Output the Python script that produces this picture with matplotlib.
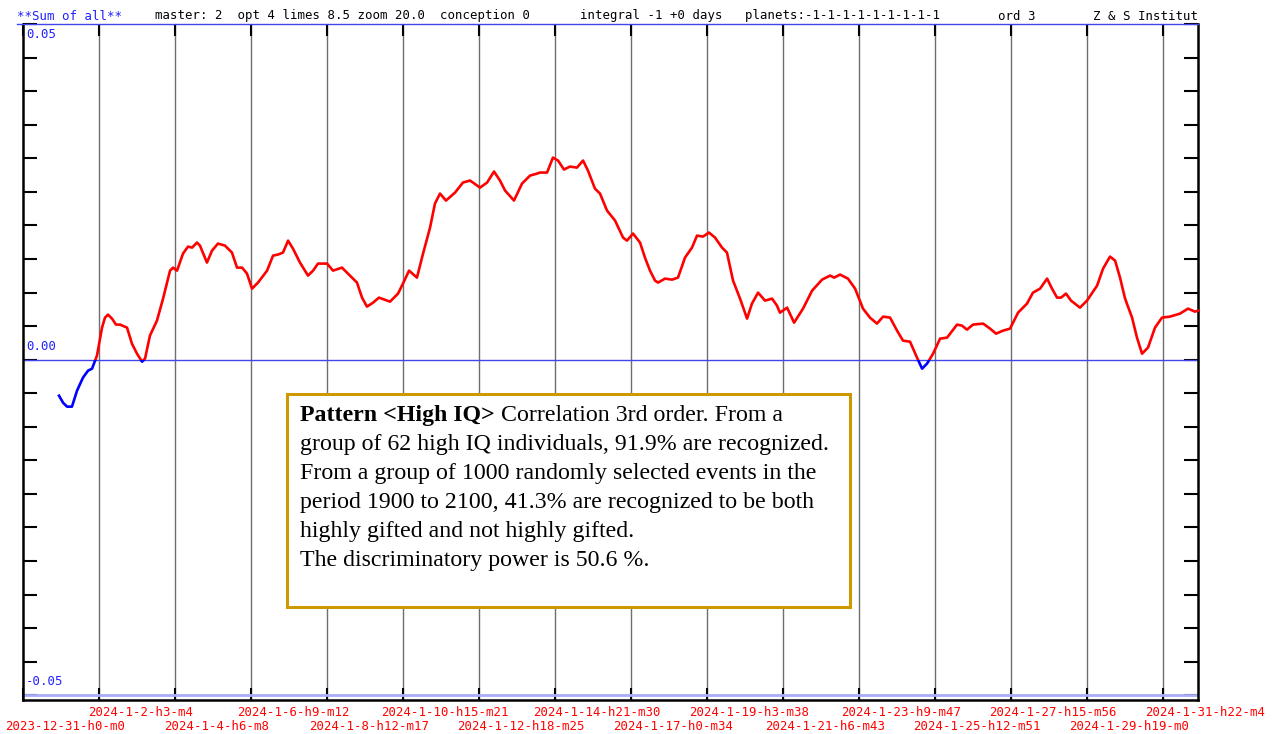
import datetime as dt

import numpy as np
import matplotlib
matplotlib.use("Agg")
import matplotlib.pyplot as plt
import matplotlib.transforms as mtransforms
from matplotlib.patches import Rectangle

# --- data -------------------------------------------------------------------
START = dt.datetime(2023, 12, 31, 0, 0)

tick_labels = [
    "2023-12-31-h0-m0", "2024-1-2-h3-m4", "2024-1-4-h6-m8", "2024-1-6-h9-m12",
    "2024-1-8-h12-m17", "2024-1-10-h15-m21", "2024-1-12-h18-m25",
    "2024-1-14-h21-m30", "2024-1-17-h0-m34", "2024-1-19-h3-m38",
    "2024-1-21-h6-m43", "2024-1-23-h9-m47", "2024-1-25-h12-m51",
    "2024-1-27-h15-m56", "2024-1-29-h19-m0", "2024-1-31-h22-m4",
]

# hours since 2023-12-31 0:00
hours = [
    24.2, 26.9, 29.6, 32.9, 36.3, 40.3, 43.7, 46.4, 49.7, 53.1, 55.1, 57.1,
    59.8, 62.5, 65.2, 69.9, 73.2, 76.6, 80.0, 82.0, 85.3, 90.0, 94.1, 98.8,
    100.8, 103.5, 107.5, 110.9, 113.6, 116.9, 118.9, 123.6, 127.0, 131.0,
    135.7, 140.4, 143.8, 147.2, 150.5, 153.9, 157.9, 164.0, 168.0, 171.3,
    174.7, 178.1, 181.4, 186.1, 191.5, 194.9, 198.2, 204.3, 208.3, 214.3,
    221.1, 224.4, 227.8, 231.1, 235.2, 239.2, 246.6, 252.0, 255.3, 259.4,
    264.7, 268.8, 273.5, 276.8, 280.2, 284.2, 290.3, 295.6, 300.4, 307.1,
    311.8, 316.5, 320.5, 323.9, 329.9, 335.3, 340.7, 345.4, 347.4, 352.1,
    356.1, 359.5, 363.5, 367.5, 372.2, 376.3, 379.6, 384.3, 387.7, 392.4,
    397.8, 403.2, 405.8, 409.9, 414.6, 417.9, 421.3, 424.7, 426.7, 431.4,
    436.1, 440.1, 444.8, 449.5, 452.9, 456.9, 460.9, 465.0, 469.7, 473.0,
    477.1, 481.8, 486.5, 489.8, 493.9, 498.6, 503.3, 506.6, 508.6, 513.4,
    518.1, 524.1, 530.2, 536.9, 542.3, 545.0, 549.0, 554.3, 559.1, 564.4,
    569.1, 573.8, 577.9, 582.6, 587.3, 591.3, 596.0, 600.7, 604.1, 607.4,
    611.5, 616.2, 620.9, 627.6, 630.9, 634.3, 638.3, 645.1, 649.8, 653.8,
    658.5, 663.2, 668.6, 674.6, 678.6, 683.4, 688.1, 691.4, 694.8, 697.5,
    700.8, 704.2, 710.2, 714.9, 721.7, 725.7, 730.4, 733.8, 737.1, 740.5,
    745.2, 748.5, 751.9, 755.9, 760.6, 765.3, 770.7, 777.4, 782.8, 787.5,
    789.5,
]

# correlation sum, in thousandths
sum_milli = [
    -5.37, -6.41, -7.00, -7.00, -4.62, -2.68, -1.64, -1.34, 0.60, 4.77, 6.26, 6.71,
    6.11, 5.22, 5.22, 4.77, 2.38, 0.89, -0.30, 0.15, 3.58, 5.81, 9.09, 13.26,
    13.71, 13.26, 15.80, 16.84, 16.69, 17.44, 16.99, 14.46, 16.24, 17.29,
    16.99, 15.95, 13.71, 13.71, 12.82, 10.58, 11.48, 13.26, 15.50, 15.65,
    15.95, 17.73, 16.54, 14.46, 12.52, 13.26, 14.31, 14.31, 13.26, 13.71,
    12.22, 11.48, 9.24, 7.90, 8.49, 9.24, 8.64, 9.84, 11.33, 13.26,
    12.22, 15.80, 19.67, 23.25, 24.74, 23.70, 24.89, 26.38, 26.68, 25.63,
    26.38, 28.02, 26.68, 25.19, 23.70, 26.23, 27.42, 27.72, 27.87, 27.87,
    30.10, 29.66, 28.32, 28.76, 28.61, 29.66, 28.17, 25.48, 24.74, 22.21,
    20.72, 18.18, 17.73, 18.78, 17.44, 15.20, 13.26, 11.77, 11.48, 12.07,
    11.92, 12.22, 15.20, 16.69, 18.48, 18.33, 18.93, 18.18, 16.69, 15.95,
    11.77, 9.09, 6.11, 8.35, 9.98, 8.79, 9.09, 8.05, 7.00, 7.75,
    5.51, 7.60, 10.28, 11.92, 12.52, 12.22, 12.67, 12.07, 10.58, 7.60,
    6.26, 5.37, 6.41, 6.26, 4.32, 2.83, 2.68, 0.30, -1.34, -0.60,
    0.89, 3.13, 3.28, 5.22, 5.07, 4.47, 5.22, 5.37, 4.62, 3.87,
    4.32, 4.62, 7.00, 8.35, 9.98, 10.58, 12.07, 10.58, 9.24, 9.24,
    9.84, 8.79, 7.75, 8.79, 11.03, 13.56, 15.35, 14.75, 12.22, 9.09,
    6.26, 3.28, 0.89, 1.79, 4.77, 6.26, 6.41, 6.86, 7.60, 7.15,
    7.30,
]

y_tick_values = [-0.05, -0.045, -0.04, -0.035, -0.03, -0.025, -0.02, -0.015,
                 -0.01, -0.005, 0.0, 0.005, 0.01, 0.015, 0.02, 0.025, 0.03,
                 0.035, 0.04, 0.045, 0.05]
y_label_values = [0.05, 0.0, -0.05]

header_parts = [
    (17, "**Sum of all**", "#2020ff"),
    (155, "master: 2  opt 4 limes 8.5 zoom 20.0  conception 0", "black"),
    (580, "integral -1 +0 days   planets:-1-1-1-1-1-1-1-1-1", "black"),
    (998, "ord 3", "black"),
    (1093, "Z & S Institut", "black"),
]

note_bold = "Pattern <High IQ>"
note_lines = [
    " Correlation 3rd order. From a",
    "group of 62 high IQ individuals, 91.9% are recognized.",
    "From a group of 1000 randomly selected events in the",
    "period 1900 to 2100, 41.3% are recognized to be both",
    "highly gifted and not highly gifted.",
    "The discriminatory power is 50.6 %.",
]


def parse_label(s):
    y, m, d, h, mi = s.split("-")
    t = dt.datetime(int(y), int(m), int(d), int(h[1:]), int(mi[1:]))
    return (t - START).total_seconds() / 3600.0


W, H = 1278, 734
fig = plt.figure(figsize=(W / 100, H / 100), dpi=100)
fig.patch.set_facecolor("white")

# axes box in pixels: left 23, right 1198, top 24, bottom 700
ax = fig.add_axes([23 / W, 1 - 700 / H, 1175 / W, 676 / H])
ax.set_xlim(0, 789.5)
ax.set_ylim(-0.0507, 0.05)

mono = "DejaVu Sans Mono"
grid_x = [parse_label(s) for s in tick_labels]

# vertical grid
for gx in grid_x[1:]:
    ax.axvline(gx, color="#6e6e6e", lw=1.0, zorder=1)

# zero line and bottom (-0.05) line
ax.axhline(0.0, color="#4444ee", lw=1.0, zorder=2)
ax.axhline(-0.05, color="#a8aef8", lw=2.0, zorder=2)

x = np.array(hours)
v = np.array(sum_milli) / 1000.0
pos_clip = Rectangle((0, 0), 1000, 1, transform=ax.transData)
neg_clip = Rectangle((0, -1), 1000, 1, transform=ax.transData)
red, = ax.plot(x, v, color="#ff0000", lw=1.9, zorder=3,
               solid_joinstyle="round")
red.set_clip_path(pos_clip)
blue, = ax.plot(x, v, color="#0000ff", lw=1.9, zorder=3,
                solid_joinstyle="round")
blue.set_clip_path(neg_clip)

# spines / ticks
for side in ["left", "right", "bottom"]:
    ax.spines[side].set_color("black")
    ax.spines[side].set_linewidth(1.8)
ax.spines["top"].set_visible(False)

ax.set_yticks(y_tick_values)
ax.tick_params(axis="y", direction="in", length=10, width=1.5,
               left=True, right=True, labelleft=False, labelright=False)
ax.set_xticks(grid_x)
ax.tick_params(axis="x", direction="in", length=8.5, width=1.5,
               bottom=True, top=True, labelbottom=False, labeltop=False)

# top blue rule under the header
fig.add_artist(plt.Line2D([17 / W, 1198 / W], [1 - 24 / H, 1 - 24 / H],
                          color="#4444ee", lw=1.0))

# y value labels
for val in y_label_values:
    if val > 0:
        ypix = 35
    else:
        ypix = 359 - val / 0.05 * 335.5 - 13
    fig.text(26 / W, 1 - ypix / H, "%.2f" % val, color="#2020ff",
             family=mono, fontsize=8.9, ha="left", va="center")

# x labels, two staggered rows, shifted right of the gridline
offset = mtransforms.ScaledTranslation(0.42, 0, fig.dpi_scale_trans)
trans = mtransforms.blended_transform_factory(ax.transData, fig.transFigure)
for i, (gx, lab) in enumerate(zip(grid_x, tick_labels)):
    ypix = 727 if i % 2 == 0 else 712
    ax.text(gx, 1 - ypix / H, lab, transform=trans + offset, color="#ff0000",
            family=mono, fontsize=8.9, ha="center", va="center", clip_on=False)

# header
for xp, txt, col in header_parts:
    fig.text(xp / W, 1 - 16 / H, txt, color=col, family=mono, fontsize=8.9,
             ha="left", va="center")

# note box
fig.add_artist(Rectangle((287 / W, 1 - 607 / H), 563 / W, 213 / H,
                         transform=fig.transFigure, facecolor="white",
                         edgecolor="#cc9900", lw=2.2, zorder=5))
serif = "Liberation Serif"
fs = 17.2
base0, pitch = 421, 29.0
tb = fig.text(300 / W, 1 - base0 / H, note_bold, family=serif,
              fontweight="bold", fontsize=fs, va="baseline", ha="left",
              zorder=6)
renderer = fig.canvas.get_renderer()
bb = tb.get_window_extent(renderer)
fig.text(bb.x1 / W, 1 - base0 / H, note_lines[0], family=serif, fontsize=fs,
         va="baseline", ha="left", zorder=6)
for i, line in enumerate(note_lines[1:], start=1):
    fig.text(300 / W, 1 - (base0 + i * pitch) / H, line, family=serif,
             fontsize=fs, va="baseline", ha="left", zorder=6)

fig.savefig("out.png", dpi=100)
